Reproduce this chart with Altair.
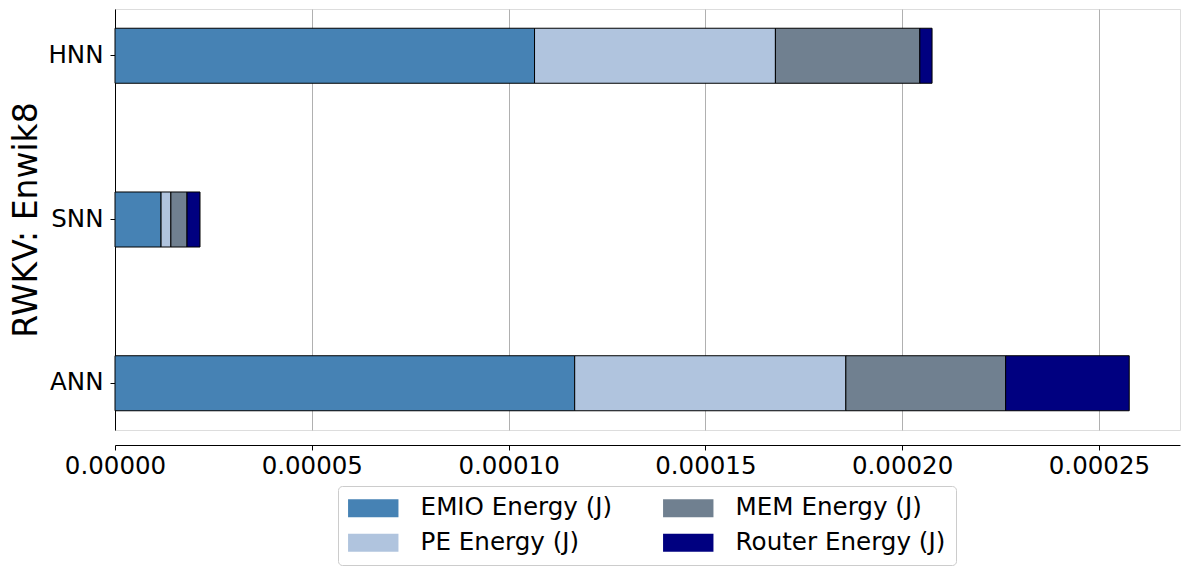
import altair as alt
import pandas as pd

models = ["HNN", "SNN", "ANN"]
components = ["EMIO Energy (J)", "PE Energy (J)", "MEM Energy (J)", "Router Energy (J)"]
emio = [106.6e-6, 11.7e-6, 116.8e-6]
pe = [61.2e-6, 2.5e-6, 68.9e-6]
mem = [36.7e-6, 4.1e-6, 40.6e-6]
router = [3.1e-6, 3.3e-6, 31.4e-6]
colors = ["#4682b4", "#b0c4de", "#708090", "#000080"]
x_ticks = [0.0, 0.00005, 0.0001, 0.00015, 0.0002, 0.00025]

rows = []
for i, m in enumerate(models):
    for k, (comp, vals) in enumerate(zip(components, [emio, pe, mem, router])):
        rows.append({"model": m, "component": comp, "value": vals[i], "order": k})
df = pd.DataFrame(rows)

FONT = "DejaVu Sans"

chart = alt.Chart(df).mark_bar(stroke="black", strokeWidth=1).encode(
    x=alt.X("value:Q", stack="zero",
            scale=alt.Scale(domain=[0, 0.0002706], nice=False, zero=True),
            axis=alt.Axis(title=None, values=x_ticks, format=".5f", grid=True,
                          gridColor="#b0b0b0", gridWidth=1, offset=15,
                          domainColor="black", tickColor="black", tickSize=5,
                          labelFontSize=24.5, labelFont=FONT, labelColor="black",
                          labelPadding=4, labelFlush=False)),
    y=alt.Y("model:N", sort=models,
            scale=alt.Scale(paddingInner=0.664, paddingOuter=0.1175),
            axis=alt.Axis(title="RWKV: Enwik8", titleFontSize=33, titleFont=FONT,
                          titleFontWeight="normal", titleColor="black",
                          titleAngle=270, titleX=-89, titleY=210.5,
                          titleAlign="center", titleBaseline="middle",
                          domainColor="black", tickColor="black", tickSize=5,
                          labelFontSize=24.5, labelFont=FONT, labelColor="black",
                          labelPadding=7, grid=False)),
    color=alt.Color("component:N",
                    scale=alt.Scale(domain=components, range=colors),
                    legend=alt.Legend(title=None, orient="none", legendX=223, legendY=477,
                                      columns=2, columnPadding=50, rowPadding=9.5,
                                      symbolType="M-1.36,-1L4.24,-1L4.24,1L-1.36,1Z",
                                      symbolSize=324, symbolStrokeWidth=0,
                                      symbolOpacity=1,
                                      labelFontSize=24.6, labelFont=FONT, labelColor="black",
                                      labelOffset=48, labelLimit=0, padding=10,
                                      strokeColor="#cccccc", cornerRadius=4,
                                      fillColor="white")),
    order=alt.Order("order:Q"),
).properties(
    width=1065, height=421,
    autosize=alt.AutoSizeParams(type="none"),
    padding={"left": 107, "top": 1, "right": 1, "bottom": 137},
).configure_view(stroke=None).configure(background="white")

chart.save("out.html", embed_options={"renderer": "svg", "actions": False})
